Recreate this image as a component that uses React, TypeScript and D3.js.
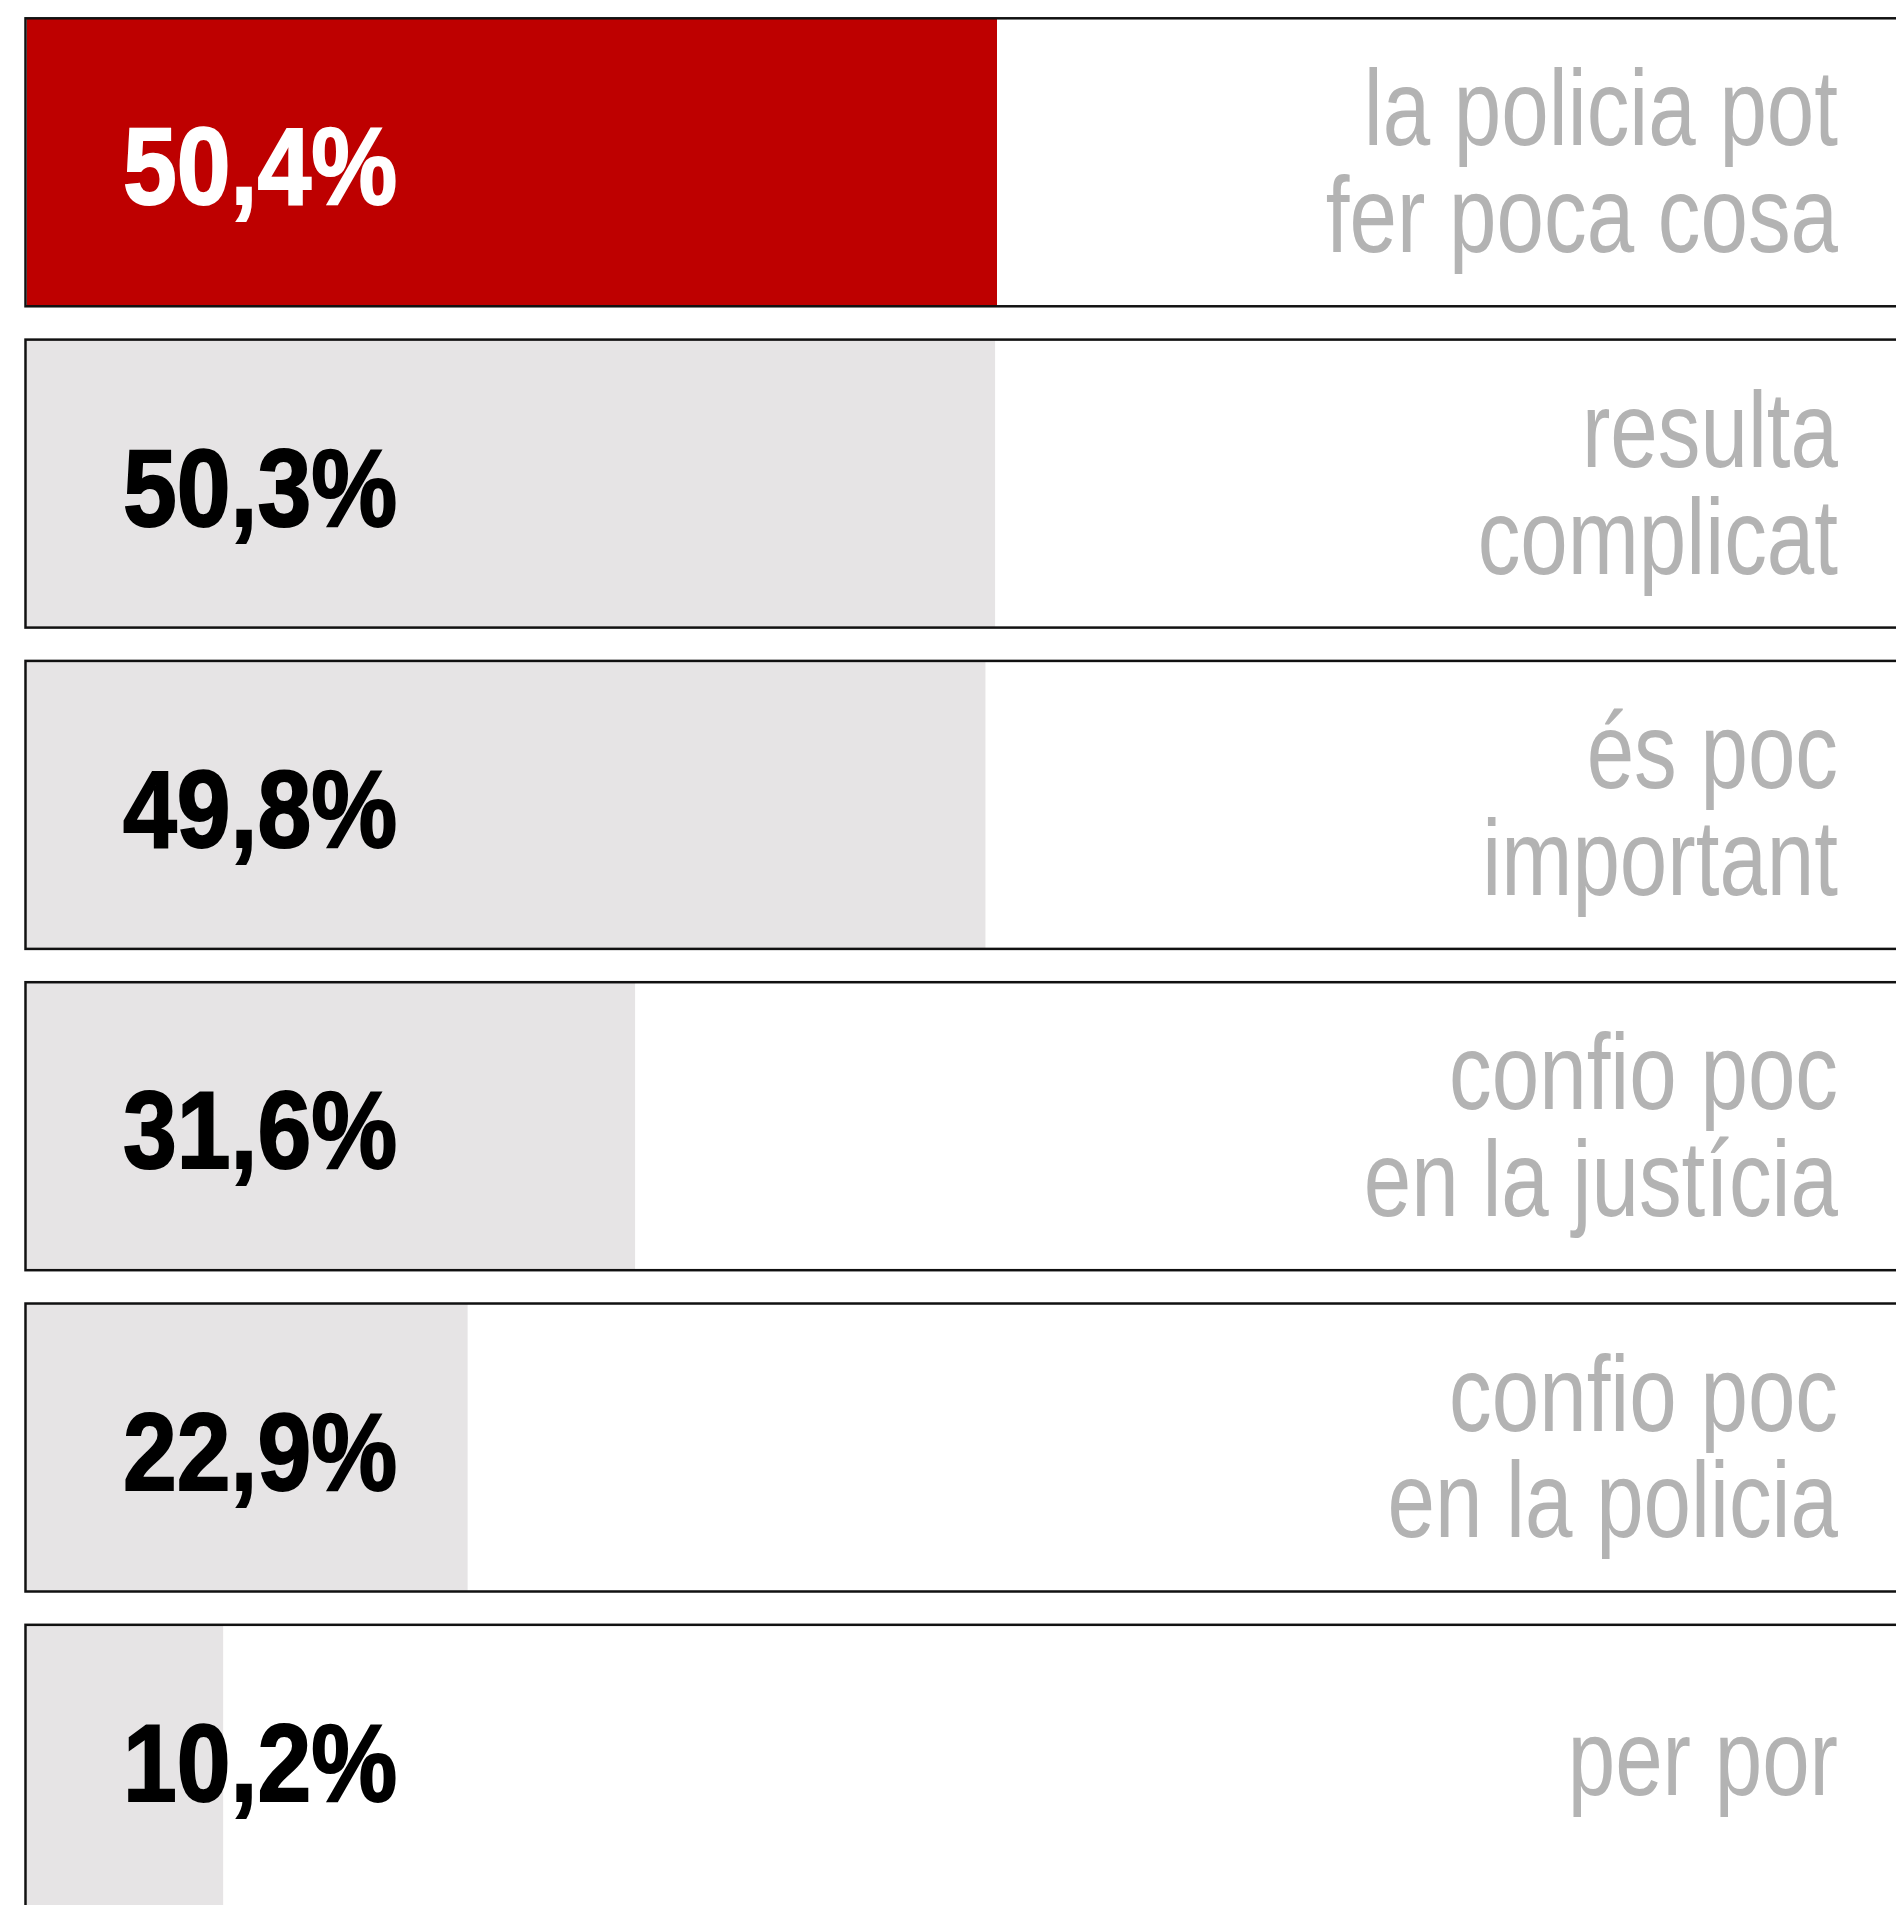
import React from 'react';
import * as d3 from 'd3';

// survey answers, top to bottom
const values = [50.4, 50.3, 49.8, 31.6, 22.9, 10.2];
const valueLabels = ['50,4%', '50,3%', '49,8%', '31,6%', '22,9%', '10,2%'];
const answers = [
    ['la policia pot', 'fer poca cosa'],
    ['resulta', 'complicat'],
    ['és poc', 'important'],
    ['confio poc', 'en la justícia'],
    ['confio poc', 'en la policia'],
    ['per por'],
];

const W = 1896;
const H = 1905;

const App = () => {
    const boxLeft = 25.5;
    const barLeft = 26.8;

    // rows: 288px boxes, ~33px gaps, last one runs off the bottom
    const y = d3.scaleBand<number>()
        .domain(d3.range(values.length))
        .range([18.3, 1912.8])
        .paddingInner(0.1037)
        .paddingOuter(0);

    // bar length (red bar ends at x=997 for 50,4)
    const x = d3.scaleLinear()
        .domain([0, 50.4])
        .range([barLeft, 997]);

    const lineGap = 107;

    return (
        <svg width={W} height={H} viewBox={`0 0 ${W} ${H}`}
            style={{ position: 'absolute', left: 0, top: 0, display: 'block', background: '#fff' }}>
            {values.map((v, i) => {
                const top = y(i) as number;
                const bh = y.bandwidth();
                const shift = i === values.length - 1 ? -10 : 0;
                const lines = answers[i];
                const mid = top + 180.5 + shift;
                const first = mid - (lines.length - 1) * lineGap / 2;
                const highlight = i === 0;
                return (
                    <g key={i}>
                        <rect x={barLeft} y={top} width={x(v) - barLeft} height={bh}
                            fill={highlight ? '#be0000' : '#e6e4e5'} />
                        <rect x={boxLeft} y={top} width={W + 20} height={bh}
                            fill="none" stroke="#111" strokeWidth={2.5} />
                        <g transform={`translate(123,${top + 186 + shift}) scale(0.887,1)`}>
                            <text x={0} y={0} fontFamily="'Liberation Sans', Arial, sans-serif"
                                fontWeight="bold" fontSize={109}
                                fill={highlight ? '#fff' : '#000'}
                                stroke={highlight ? '#fff' : '#000'} strokeWidth={2}>
                                {valueLabels[i]}
                            </text>
                        </g>
                        <g transform={`translate(1838,${first}) scale(0.79,1)`}>
                            <text x={0} y={0} textAnchor="end"
                                fontFamily="'Liberation Sans', Arial, sans-serif"
                                fontSize={108} fill="#b3b3b3">
                                {lines.map((line, j) => (
                                    <tspan key={j} x={0} dy={j === 0 ? 0 : lineGap}>{line}</tspan>
                                ))}
                            </text>
                        </g>
                    </g>
                );
            })}
        </svg>
    );
};

export default App;
